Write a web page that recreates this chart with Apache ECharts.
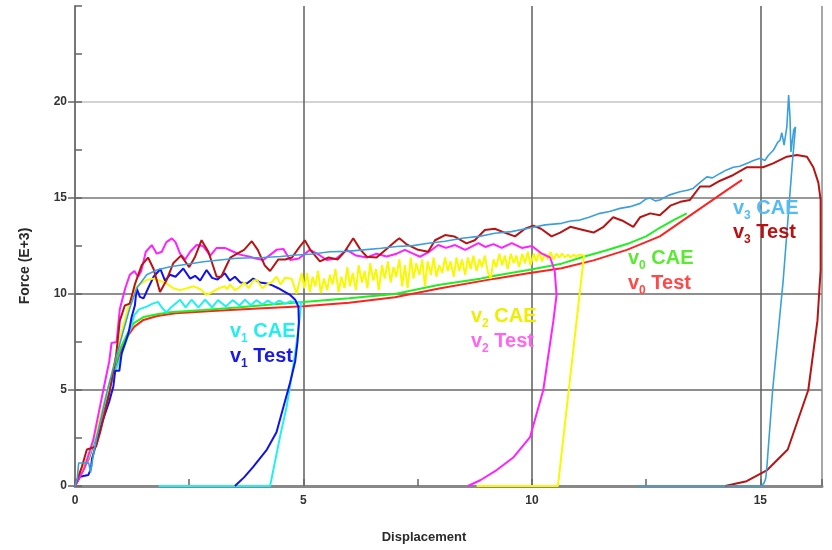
<!DOCTYPE html>
<html><head><meta charset="utf-8">
<script src="https://cdn.jsdelivr.net/npm/echarts@6/dist/echarts.min.js"></script>
<style>html,body{margin:0;padding:0;background:#fff}#c{width:832px;height:550px}</style>
</head><body><div id="c"></div>
<script>
// ---- axis ticks ----
const xTickLabels = ['0', '5', '10', '15'];
const yTickLabels = ['0', '5', '10', '15', '20'];
const yMajorTicks = [0, 5, 10, 15, 20];
const xMax = 16.35;
const yMax = 25;

// ---- series data [displacement, force(E+3)] ----
const v0CAE = [[0,0],[0.3,1.5],[0.5,3.0],[0.7,4.8],[0.85,6.1],[1.0,7.2],[1.15,7.95],[1.28,8.47],[1.5,8.8],[1.8,8.95],[2.08,9.05],[2.81,9.17],[3.54,9.3],[4.3,9.45],[5.0,9.58],[6.0,9.78],[7.0,10.0],[7.95,10.47],[8.87,10.8],[9.19,10.95],[9.92,11.25],[10.65,11.58],[11.13,11.94],[11.6,12.25],[12.08,12.6],[12.5,13.0],[12.8,13.45],[13.1,13.85],[13.39,14.2]];
const v0Test = [[0,0],[0.3,1.4],[0.5,2.9],[0.7,4.6],[0.85,5.9],[1.0,7.0],[1.15,7.8],[1.3,8.3],[1.5,8.65],[1.8,8.85],[2.2,9.0],[3.0,9.12],[4.0,9.25],[5.0,9.36],[6.0,9.55],[7.0,9.83],[8.0,10.3],[9.19,10.8],[9.92,11.08],[10.65,11.34],[11.35,11.75],[12.08,12.3],[12.8,13.0],[13.53,14.2],[14.26,15.4],[14.6,15.94]];
const v1CAE = [[0,0],[0.3,1.5],[0.5,3.0],[0.7,4.8],[0.98,6.6],[1.17,7.9],[1.3,8.9],[1.4,9.2],[1.57,9.34],[1.7,9.5],[1.82,9.58],[1.9,9.3],[2.0,9.05],[2.1,9.3],[2.3,9.7],[2.42,9.3],[2.55,9.7],[2.7,9.3],[2.85,9.7],[3.0,9.3],[3.13,9.68],[3.3,9.35],[3.45,9.68],[3.6,9.4],[3.72,9.7],[3.85,9.42],[3.97,9.68],[4.1,9.45],[4.22,9.66],[4.35,9.47],[4.47,9.65],[4.6,9.5],[4.72,9.62],[4.85,9.55],[4.95,9.58],[4.93,9.0],[4.87,7.8],[4.78,6.3],[4.63,4.1],[4.49,2.6],[4.27,0],[1.83,0]];
const v1Test = [[0,0],[0.11,0.48],[0.29,0.57],[0.35,0.9],[0.37,1.4],[0.5,2.5],[0.62,3.5],[0.75,4.4],[0.84,5.2],[0.88,6.0],[0.97,6.0],[1.02,6.9],[1.17,7.95],[1.24,8.8],[1.31,9.4],[1.35,10.3],[1.42,9.85],[1.5,9.77],[1.6,10.3],[1.72,10.9],[1.87,11.3],[1.97,10.7],[2.08,11.0],[2.2,10.9],[2.37,11.33],[2.52,10.8],[2.63,10.95],[2.74,10.7],[2.88,11.25],[3.0,10.84],[3.12,10.75],[3.28,11.08],[3.39,10.7],[3.5,10.9],[3.62,10.6],[3.76,10.55],[3.9,10.8],[4.05,10.6],[4.2,10.55],[4.32,10.45],[4.45,10.3],[4.6,10.1],[4.71,9.95],[4.82,9.7],[4.89,9.34],[4.9,8.5],[4.87,7.5],[4.82,6.5],[4.71,5.4],[4.56,4.1],[4.41,2.8],[4.2,1.9],[3.9,1.0],[3.7,0.45],[3.5,0]];
const v2CAE = [[0,0],[0.3,1.6],[0.5,3.1],[0.7,4.9],[0.9,6.8],[1.05,8.3],[1.2,9.6],[1.35,10.4],[1.57,10.73],[1.71,10.8],[1.85,10.7],[2.0,10.55],[2.15,10.3],[2.3,10.2],[2.45,10.3],[2.59,10.4],[2.75,10.25],[2.88,9.95],[3.0,10.1],[3.15,10.3],[3.28,10.4],[3.33,10.25],[3.39,10.5],[3.5,10.2],[3.6,10.35],[3.7,10.6],[3.8,10.3],[3.9,10.7],[3.98,10.73],[4.1,10.3],[4.2,10.5],[4.3,10.6],[4.41,10.9],[4.5,10.5],[4.6,10.85],[4.74,10.8],[4.85,10.03],[4.96,11.08],[5.02,10.3],[5.08,11.1],[5.14,10.1],[5.2,10.9],[5.26,10.4],[5.32,11.2],[5.38,10.05],[5.45,10.8],[5.52,10.2],[5.58,11.0],[5.64,10.5],[5.7,11.3],[5.77,10.1],[5.83,10.9],[5.9,10.3],[5.96,11.4],[6.02,10.4],[6.08,11.1],[6.15,10.2],[6.21,11.5],[6.28,10.6],[6.34,11.2],[6.4,10.3],[6.46,11.6],[6.53,10.7],[6.59,11.3],[6.65,10.2],[6.72,11.5],[6.78,10.8],[6.85,11.7],[6.91,10.6],[6.97,11.4],[7.03,10.9],[7.1,11.8],[7.16,10.4],[7.22,11.5],[7.28,10.3],[7.35,11.9],[7.41,10.8],[7.47,11.6],[7.54,11.0],[7.6,11.8],[7.66,10.4],[7.72,11.7],[7.79,11.0],[7.85,11.9],[7.91,10.9],[7.97,11.5],[8.04,11.1],[8.1,11.9],[8.16,11.2],[8.22,11.7],[8.29,10.9],[8.35,11.9],[8.41,11.2],[8.47,11.8],[8.54,11.0],[8.6,11.9],[8.66,11.3],[8.72,12.0],[8.79,11.2],[8.85,11.8],[8.91,11.4],[8.97,12.0],[9.04,11.1],[9.1,10.8],[9.16,11.8],[9.22,11.4],[9.29,12.1],[9.35,11.5],[9.41,12.0],[9.47,11.3],[9.54,12.1],[9.6,11.6],[9.66,12.0],[9.72,11.4],[9.79,12.1],[9.85,11.6],[9.91,12.2],[9.97,11.5],[10.04,12.1],[10.1,11.7],[10.16,12.2],[10.22,11.7],[10.29,12.1],[10.35,11.8],[10.41,12.2],[10.47,11.8],[10.54,12.1],[10.6,11.9],[10.66,12.1],[10.72,11.9],[10.79,12.05],[10.85,11.9],[10.91,12.05],[10.97,11.95],[11.04,12.05],[11.14,12.0],[10.57,0],[8.79,0]];
const v2Test = [[0,0],[0.2,0.9],[0.4,2.4],[0.62,5.0],[0.75,6.5],[0.8,7.45],[0.91,7.5],[0.98,9.2],[1.1,10.3],[1.2,11.0],[1.3,11.2],[1.38,10.9],[1.45,11.2],[1.55,12.2],[1.68,12.55],[1.79,12.1],[1.9,12.2],[2.0,12.7],[2.12,12.9],[2.2,12.7],[2.3,12.1],[2.41,11.8],[2.52,12.2],[2.66,12.55],[2.8,12.5],[2.96,12.0],[3.1,12.4],[3.28,12.4],[3.47,12.2],[3.61,12.05],[3.83,11.94],[3.95,11.85],[4.12,11.77],[4.25,12.0],[4.41,12.3],[4.56,12.35],[4.71,11.77],[4.9,11.85],[5.14,12.3],[5.3,12.1],[5.51,11.77],[5.72,11.85],[5.95,12.3],[6.15,12.0],[6.39,11.9],[6.6,12.1],[6.82,11.95],[7.04,12.1],[7.22,12.3],[7.4,12.1],[7.55,11.94],[7.75,12.2],[7.95,12.55],[8.12,12.4],[8.32,12.55],[8.54,12.3],[8.83,12.65],[8.98,12.45],[9.16,12.6],[9.34,12.4],[9.56,12.65],[9.78,12.4],[10.0,12.5],[10.22,12.1],[10.4,11.9],[10.5,11.2],[10.54,9.95],[10.47,8.6],[10.25,5.0],[9.96,2.55],[9.6,1.5],[9.23,0.83],[8.87,0.3],[8.6,0]];
const v3CAE = [[0,0],[0.05,0.4],[0.08,1.2],[0.3,1.2],[0.34,0.7],[0.4,1.6],[0.5,2.8],[0.7,4.9],[0.9,6.7],[1.05,8.0],[1.2,9.27],[1.35,10.3],[1.57,11.0],[1.79,11.25],[2.08,11.42],[2.45,11.55],[2.81,11.68],[3.17,11.77],[3.54,11.86],[4.12,11.9],[4.5,11.95],[4.85,12.03],[5.2,12.08],[5.58,12.2],[5.95,12.22],[6.31,12.3],[6.7,12.38],[7.04,12.47],[7.4,12.52],[7.73,12.64],[8.1,12.75],[8.47,12.9],[8.85,13.0],[9.19,13.16],[9.55,13.25],[9.92,13.42],[10.29,13.6],[10.65,13.68],[10.85,13.8],[11.05,13.85],[11.25,14.0],[11.49,14.2],[11.7,14.3],[11.93,14.46],[12.15,14.55],[12.37,14.72],[12.5,14.95],[12.59,15.0],[12.7,14.85],[12.8,14.9],[13.0,15.15],[13.24,15.33],[13.4,15.4],[13.53,15.5],[13.7,15.85],[13.83,16.1],[13.95,16.05],[14.12,16.28],[14.25,16.45],[14.41,16.6],[14.55,16.65],[14.7,16.8],[14.85,16.95],[15.0,17.07],[15.1,16.95],[15.17,17.2],[15.29,17.5],[15.38,17.9],[15.43,18.0],[15.47,18.4],[15.52,17.76],[15.58,18.7],[15.62,20.36],[15.65,19.2],[15.67,17.4],[15.73,18.54],[15.77,18.7],[15.7,16.8],[15.5,10.7],[15.27,5.0],[15.15,1.2],[15.12,0.4],[15.08,0.15],[15.02,0],[12.3,0]];
const v3Test = [[0,0],[0.15,1.0],[0.26,1.9],[0.46,2.05],[0.55,2.8],[0.75,4.8],[0.9,6.8],[0.98,8.6],[1.09,9.4],[1.2,9.5],[1.31,10.5],[1.46,11.5],[1.6,11.9],[1.72,11.3],[1.86,10.1],[2.0,10.7],[2.15,11.6],[2.32,12.0],[2.5,11.4],[2.62,11.9],[2.77,12.8],[2.92,12.2],[3.1,10.9],[3.2,10.9],[3.4,11.9],[3.55,12.1],[3.7,12.3],[3.87,12.75],[4.0,12.3],[4.15,11.5],[4.27,11.2],[4.45,11.8],[4.6,11.8],[4.75,11.9],[4.9,12.4],[5.03,12.8],[5.15,12.3],[5.36,11.7],[5.55,11.9],[5.75,11.8],[5.9,12.2],[6.09,12.9],[6.25,12.3],[6.39,11.94],[6.6,11.9],[6.8,12.3],[7.04,12.8],[7.1,12.9],[7.25,12.6],[7.51,12.3],[7.73,12.2],[7.88,12.8],[8.1,13.07],[8.3,13.0],[8.57,12.64],[8.75,12.8],[8.97,13.33],[9.19,13.4],[9.4,13.2],[9.63,13.0],[9.85,13.4],[10.03,13.56],[10.2,13.4],[10.43,13.0],[10.62,13.2],[10.84,13.5],[11.1,13.35],[11.35,13.2],[11.57,13.5],[11.78,14.0],[12.0,13.8],[12.22,13.5],[12.37,14.0],[12.59,14.2],[12.8,14.1],[13.03,14.6],[13.25,14.8],[13.46,14.9],[13.68,15.6],[13.9,15.6],[14.12,15.9],[14.41,16.2],[14.7,16.6],[15.06,16.6],[15.28,16.8],[15.58,17.15],[15.8,17.24],[16.02,17.15],[16.16,16.6],[16.27,15.8],[16.32,14.9],[16.32,11.25],[16.25,8.6],[16.05,5.0],[15.6,1.9],[15.15,0.83],[14.7,0.25],[14.23,0]];

const FONT = "'Liberation Sans', Arial, Helvetica, sans-serif";

const chart = echarts.init(document.getElementById('c'), null, {renderer: 'canvas'});

function mkSeries(name, data, color, width) {
  return {
    name: name, type: 'line', data: data, showSymbol: false, symbol: 'none',
    smooth: false, clip: true, animation: false,
    lineStyle: {color: color, width: width || 2}, z: 3
  };
}

// label definitions: [main, subscript, rest, color, left, capCenterY]
const labels = [
  ['v', '0', ' CAE', '#5aea32', 628, 258],
  ['v', '0', ' Test', '#ff4848', 628, 283],
  ['v', '1', ' CAE', '#22eeee', 230, 331],
  ['v', '1', ' Test', '#1a1ae6', 230, 356],
  ['v', '2', ' CAE', '#eeee00', 471, 316],
  ['v', '2', ' Test', '#ff66f0', 471, 341],
  ['v', '3', ' CAE', '#55bbf5', 733, 208],
  ['v', '3', ' Test', '#bb1111', 733, 232]
];
const graphics = [];
labels.forEach(function (l) {
  const big = 'bold 20px ' + FONT, small = 'bold 12px ' + FONT;
  graphics.push({type: 'text', x: l[4], y: l[5], style: {text: l[0], font: big, fill: l[3], textAlign: 'left', textVerticalAlign: 'middle'}, z: 10});
  graphics.push({type: 'text', x: l[4] + 11.1, y: l[5] + 8, style: {text: l[1], font: small, fill: l[3], textAlign: 'left', textVerticalAlign: 'middle'}, z: 10});
  graphics.push({type: 'text', x: l[4] + 17.8, y: l[5], style: {text: l[2], font: big, fill: l[3], textAlign: 'left', textVerticalAlign: 'middle'}, z: 10});
});
graphics.push({type: 'text', x: 424, y: 537, style: {text: 'Displacement', font: 'bold 13px ' + FONT, fill: '#2a2a2a', textAlign: 'center', textVerticalAlign: 'middle'}});
graphics.push({type: 'text', x: 25, y: 266, rotation: Math.PI / 2, style: {text: 'Force (E+3)', font: 'bold 14px ' + FONT, fill: '#2a2a2a', textAlign: 'center', textVerticalAlign: 'middle'}});

const labelStyle = {color: '#333', fontSize: 12, fontWeight: 'bold', fontFamily: FONT};

chart.setOption({
  animation: false,
  backgroundColor: '#fff',
  grid: {left: 75, top: 6, right: 10, bottom: 64, containLabel: false},
  xAxis: [{
    type: 'value', min: 0, max: xMax, interval: 5, position: 'bottom',
    axisLine: {show: true, onZero: false, lineStyle: {color: '#888', width: 3}},
    axisTick: {show: false},
    axisLabel: Object.assign({margin: 9, showMaxLabel: false,
      formatter: function (v) { return xTickLabels.indexOf(String(v)) >= 0 ? String(v) : ''; }}, labelStyle),
    splitLine: {show: true, lineStyle: {color: ['#888', '#5e5e5e', '#5e5e5e', '#5e5e5e', '#8a8a8a'], width: 1.5}}
  }, {
    type: 'value', min: 0, max: xMax, interval: 2.5, position: 'bottom',
    axisLine: {show: false}, axisLabel: {show: false}, splitLine: {show: false},
    axisTick: {show: true, inside: true, length: 7, lineStyle: {color: '#666', width: 1.5}}
  }],
  yAxis: [{
    type: 'value', min: 0, max: yMax, interval: 5, position: 'left',
    axisLine: {show: true, onZero: false, lineStyle: {color: '#777', width: 2}},
    axisTick: {show: true, inside: false, length: 7, customValues: yMajorTicks, lineStyle: {color: '#666', width: 1.5}},
    axisLabel: Object.assign({margin: 8, showMaxLabel: false,
      formatter: function (v) { return yTickLabels.indexOf(String(v)) >= 0 ? String(v) : ''; }}, labelStyle),
    splitLine: {show: true, lineStyle: {color: ['#777', '#6a6a6a', '#6a6a6a', '#777', '#c4c4c4', '#cfcfcf'], width: 1.5}}
  }, {
    type: 'value', min: 0, max: yMax, interval: 2.5, position: 'left',
    axisLine: {show: false}, axisLabel: {show: false}, splitLine: {show: false},
    axisTick: {show: true, inside: true, length: 7, lineStyle: {color: '#666', width: 1.5}}
  }],
  series: [
    mkSeries('v0 Test', v0Test, '#ff2222', 2),
    mkSeries('v0 CAE', v0CAE, '#22ee22', 2),
    mkSeries('v1 CAE', v1CAE, '#22f0f0', 2),
    mkSeries('v1 Test', v1Test, '#1111ee', 2),
    mkSeries('v2 CAE', v2CAE, '#f8f800', 2),
    mkSeries('v2 Test', v2Test, '#ff22ff', 2),
    mkSeries('v3 Test', v3Test, '#b81414', 2),
    mkSeries('v3 CAE', v3CAE, '#3aa0dc', 1.6)
  ],
  graphic: graphics
});
</script>
</body></html>
